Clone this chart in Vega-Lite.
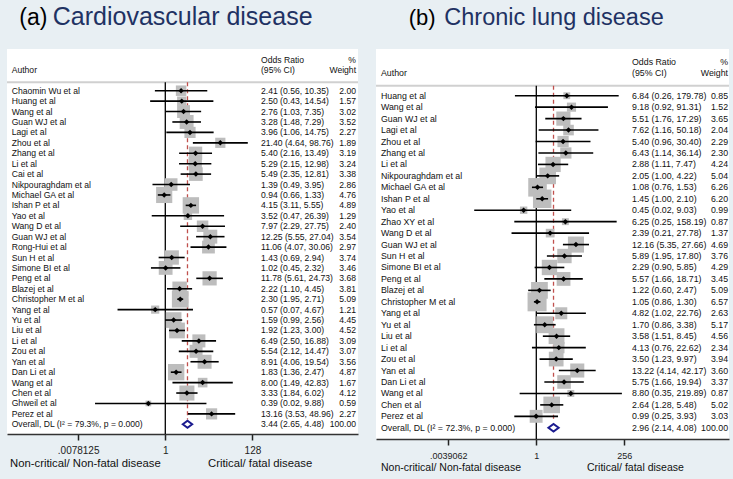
{
  "$schema": "https://vega.github.io/schema/vega-lite/v6.json",
  "background": "#e8eff3",
  "padding": {"left": 6, "top": 5, "right": 5, "bottom": 10},
  "spacing": 18,
  "bounds": "flush",
  "config": {"view": {"fill": "#ffffff", "stroke": null}, "font": "Liberation Sans", "text": {"font": "Liberation Sans"}},
  "datasets": {
    "cvd": [
      {"i": 0, "study": "Chaomin Wu et al", "or": 2.41, "lo": 0.56, "hi": 10.35, "w": 2.00, "ci": "2.41 (0.56, 10.35)", "kind": "study"},
      {"i": 1, "study": "Huang et al", "or": 2.50, "lo": 0.43, "hi": 14.54, "w": 1.57, "ci": "2.50 (0.43, 14.54)", "kind": "study"},
      {"i": 2, "study": "Wang et al", "or": 2.76, "lo": 1.03, "hi": 7.35, "w": 3.02, "ci": "2.76 (1.03, 7.35)", "kind": "study"},
      {"i": 3, "study": "Guan WJ et al", "or": 3.28, "lo": 1.48, "hi": 7.29, "w": 3.52, "ci": "3.28 (1.48, 7.29)", "kind": "study"},
      {"i": 4, "study": "Lagi et al", "or": 3.96, "lo": 1.06, "hi": 14.75, "w": 2.27, "ci": "3.96 (1.06, 14.75)", "kind": "study"},
      {"i": 5, "study": "Zhou et al", "or": 21.40, "lo": 4.64, "hi": 98.76, "w": 1.89, "ci": "21.40 (4.64, 98.76)", "kind": "study"},
      {"i": 6, "study": "Zhang et al", "or": 5.40, "lo": 2.16, "hi": 13.49, "w": 3.19, "ci": "5.40 (2.16, 13.49)", "kind": "study"},
      {"i": 7, "study": "Li et al", "or": 5.29, "lo": 2.15, "hi": 12.98, "w": 3.24, "ci": "5.29 (2.15, 12.98)", "kind": "study"},
      {"i": 8, "study": "Cai et al", "or": 5.49, "lo": 2.35, "hi": 12.81, "w": 3.38, "ci": "5.49 (2.35, 12.81)", "kind": "study"},
      {"i": 9, "study": "Nikpouraghdam et al", "or": 1.39, "lo": 0.49, "hi": 3.95, "w": 2.86, "ci": "1.39 (0.49, 3.95)", "kind": "study"},
      {"i": 10, "study": "Michael GA et al", "or": 0.94, "lo": 0.66, "hi": 1.33, "w": 4.76, "ci": "0.94 (0.66, 1.33)", "kind": "study"},
      {"i": 11, "study": "Ishan P et al", "or": 4.15, "lo": 3.11, "hi": 5.55, "w": 4.89, "ci": "4.15 (3.11, 5.55)", "kind": "study"},
      {"i": 12, "study": "Yao et al", "or": 3.52, "lo": 0.47, "hi": 26.39, "w": 1.29, "ci": "3.52 (0.47, 26.39)", "kind": "study"},
      {"i": 13, "study": "Wang D et al", "or": 7.97, "lo": 2.29, "hi": 27.75, "w": 2.40, "ci": "7.97 (2.29, 27.75)", "kind": "study"},
      {"i": 14, "study": "Guan WJ et al", "or": 12.25, "lo": 5.55, "hi": 27.04, "w": 3.54, "ci": "12.25 (5.55, 27.04)", "kind": "study"},
      {"i": 15, "study": "Rong-Hui et al", "or": 11.06, "lo": 4.07, "hi": 30.06, "w": 2.97, "ci": "11.06 (4.07, 30.06)", "kind": "study"},
      {"i": 16, "study": "Sun H et al", "or": 1.43, "lo": 0.69, "hi": 2.94, "w": 3.74, "ci": "1.43 (0.69, 2.94)", "kind": "study"},
      {"i": 17, "study": "Simone BI et al", "or": 1.02, "lo": 0.45, "hi": 2.32, "w": 3.46, "ci": "1.02 (0.45, 2.32)", "kind": "study"},
      {"i": 18, "study": "Peng et al", "or": 11.78, "lo": 5.61, "hi": 24.73, "w": 3.68, "ci": "11.78 (5.61, 24.73)", "kind": "study"},
      {"i": 19, "study": "Blazej et al", "or": 2.22, "lo": 1.10, "hi": 4.45, "w": 3.81, "ci": "2.22 (1.10, 4.45)", "kind": "study"},
      {"i": 20, "study": "Christopher M et al", "or": 2.30, "lo": 1.95, "hi": 2.71, "w": 5.09, "ci": "2.30 (1.95, 2.71)", "kind": "study"},
      {"i": 21, "study": "Yang et al", "or": 0.57, "lo": 0.07, "hi": 4.67, "w": 1.21, "ci": "0.57 (0.07, 4.67)", "kind": "study"},
      {"i": 22, "study": "Yu et al", "or": 1.59, "lo": 0.99, "hi": 2.56, "w": 4.45, "ci": "1.59 (0.99, 2.56)", "kind": "study"},
      {"i": 23, "study": "Liu et al", "or": 1.92, "lo": 1.23, "hi": 3.00, "w": 4.52, "ci": "1.92 (1.23, 3.00)", "kind": "study"},
      {"i": 24, "study": "Li et al", "or": 6.49, "lo": 2.50, "hi": 16.88, "w": 3.09, "ci": "6.49 (2.50, 16.88)", "kind": "study"},
      {"i": 25, "study": "Zou et al", "or": 5.54, "lo": 2.12, "hi": 14.47, "w": 3.07, "ci": "5.54 (2.12, 14.47)", "kind": "study"},
      {"i": 26, "study": "Yan et al", "or": 8.91, "lo": 4.06, "hi": 19.54, "w": 3.56, "ci": "8.91 (4.06, 19.54)", "kind": "study"},
      {"i": 27, "study": "Dan Li et al", "or": 1.83, "lo": 1.36, "hi": 2.47, "w": 4.87, "ci": "1.83 (1.36, 2.47)", "kind": "study"},
      {"i": 28, "study": "Wang et al", "or": 8.00, "lo": 1.49, "hi": 42.83, "w": 1.67, "ci": "8.00 (1.49, 42.83)", "kind": "study"},
      {"i": 29, "study": "Chen et al", "or": 3.33, "lo": 1.84, "hi": 6.02, "w": 4.12, "ci": "3.33 (1.84, 6.02)", "kind": "study"},
      {"i": 30, "study": "Ghweil et al", "or": 0.39, "lo": 0.02, "hi": 9.88, "w": 0.59, "ci": "0.39 (0.02, 9.88)", "kind": "study"},
      {"i": 31, "study": "Perez et al", "or": 13.16, "lo": 3.53, "hi": 48.96, "w": 2.27, "ci": "13.16 (3.53, 48.96)", "kind": "study"},
      {"i": 32, "study": "Overall, DL (I² = 79.3%, p = 0.000)", "or": 3.44, "lo": 2.65, "hi": 4.48, "w": 100.00, "ci": "3.44 (2.65, 4.48)", "kind": "overall"}
    ],
    "cld": [
      {"i": 0, "study": "Huang et al", "or": 6.84, "lo": 0.26, "hi": 179.78, "w": 0.85, "ci": "6.84 (0.26, 179.78)", "kind": "study"},
      {"i": 1, "study": "Wang et al", "or": 9.18, "lo": 0.92, "hi": 91.31, "w": 1.52, "ci": "9.18 (0.92, 91.31)", "kind": "study"},
      {"i": 2, "study": "Guan WJ et al", "or": 5.51, "lo": 1.76, "hi": 17.29, "w": 3.65, "ci": "5.51 (1.76, 17.29)", "kind": "study"},
      {"i": 3, "study": "Lagi et al", "or": 7.62, "lo": 1.16, "hi": 50.18, "w": 2.04, "ci": "7.62 (1.16, 50.18)", "kind": "study"},
      {"i": 4, "study": "Zhou et al", "or": 5.40, "lo": 0.96, "hi": 30.40, "w": 2.29, "ci": "5.40 (0.96, 30.40)", "kind": "study"},
      {"i": 5, "study": "Zhang et al", "or": 6.43, "lo": 1.14, "hi": 36.14, "w": 2.30, "ci": "6.43 (1.14, 36.14)", "kind": "study"},
      {"i": 6, "study": "Li et al", "or": 2.88, "lo": 1.11, "hi": 7.47, "w": 4.24, "ci": "2.88 (1.11, 7.47)", "kind": "study"},
      {"i": 7, "study": "Nikpouraghdam et al", "or": 2.05, "lo": 1.00, "hi": 4.22, "w": 5.04, "ci": "2.05 (1.00, 4.22)", "kind": "study"},
      {"i": 8, "study": "Michael GA et al", "or": 1.08, "lo": 0.76, "hi": 1.53, "w": 6.26, "ci": "1.08 (0.76, 1.53)", "kind": "study"},
      {"i": 9, "study": "Ishan P et al", "or": 1.45, "lo": 1.00, "hi": 2.10, "w": 6.20, "ci": "1.45 (1.00, 2.10)", "kind": "study"},
      {"i": 10, "study": "Yao et al", "or": 0.45, "lo": 0.02, "hi": 9.03, "w": 0.99, "ci": "0.45 (0.02, 9.03)", "kind": "study"},
      {"i": 11, "study": "Zhao XY et al", "or": 6.25, "lo": 0.25, "hi": 158.19, "w": 0.87, "ci": "6.25 (0.25, 158.19)", "kind": "study"},
      {"i": 12, "study": "Wang D et al", "or": 2.39, "lo": 0.21, "hi": 27.78, "w": 1.37, "ci": "2.39 (0.21, 27.78)", "kind": "study"},
      {"i": 13, "study": "Guan WJ et al", "or": 12.16, "lo": 5.35, "hi": 27.66, "w": 4.69, "ci": "12.16 (5.35, 27.66)", "kind": "study"},
      {"i": 14, "study": "Sun H et al", "or": 5.89, "lo": 1.95, "hi": 17.80, "w": 3.76, "ci": "5.89 (1.95, 17.80)", "kind": "study"},
      {"i": 15, "study": "Simone BI et al", "or": 2.29, "lo": 0.90, "hi": 5.85, "w": 4.29, "ci": "2.29 (0.90, 5.85)", "kind": "study"},
      {"i": 16, "study": "Peng et al", "or": 5.57, "lo": 1.66, "hi": 18.71, "w": 3.45, "ci": "5.57 (1.66, 18.71)", "kind": "study"},
      {"i": 17, "study": "Blazej et al", "or": 1.22, "lo": 0.60, "hi": 2.47, "w": 5.09, "ci": "1.22 (0.60, 2.47)", "kind": "study"},
      {"i": 18, "study": "Christopher M et al", "or": 1.05, "lo": 0.86, "hi": 1.30, "w": 6.57, "ci": "1.05 (0.86, 1.30)", "kind": "study"},
      {"i": 19, "study": "Yang et al", "or": 4.82, "lo": 1.02, "hi": 22.76, "w": 2.63, "ci": "4.82 (1.02, 22.76)", "kind": "study"},
      {"i": 20, "study": "Yu et al", "or": 1.70, "lo": 0.86, "hi": 3.38, "w": 5.17, "ci": "1.70 (0.86, 3.38)", "kind": "study"},
      {"i": 21, "study": "Liu et al", "or": 3.58, "lo": 1.51, "hi": 8.45, "w": 4.56, "ci": "3.58 (1.51, 8.45)", "kind": "study"},
      {"i": 22, "study": "Li et al", "or": 4.13, "lo": 0.76, "hi": 22.62, "w": 2.34, "ci": "4.13 (0.76, 22.62)", "kind": "study"},
      {"i": 23, "study": "Zou et al", "or": 3.50, "lo": 1.23, "hi": 9.97, "w": 3.94, "ci": "3.50 (1.23, 9.97)", "kind": "study"},
      {"i": 24, "study": "Yan et al", "or": 13.22, "lo": 4.14, "hi": 42.17, "w": 3.60, "ci": "13.22 (4.14, 42.17)", "kind": "study"},
      {"i": 25, "study": "Dan Li et al", "or": 5.75, "lo": 1.66, "hi": 19.94, "w": 3.37, "ci": "5.75 (1.66, 19.94)", "kind": "study"},
      {"i": 26, "study": "Wang et al", "or": 8.80, "lo": 0.35, "hi": 219.89, "w": 0.87, "ci": "8.80 (0.35, 219.89)", "kind": "study"},
      {"i": 27, "study": "Chen et al", "or": 2.64, "lo": 1.28, "hi": 5.48, "w": 5.02, "ci": "2.64 (1.28, 5.48)", "kind": "study"},
      {"i": 28, "study": "Perez et al", "or": 0.99, "lo": 0.25, "hi": 3.93, "w": 3.03, "ci": "0.99 (0.25, 3.93)", "kind": "study"},
      {"i": 29, "study": "Overall, DL (I² = 72.3%, p = 0.000)", "or": 2.96, "lo": 2.14, "hi": 4.08, "w": 100.00, "ci": "2.96 (2.14, 4.08)", "kind": "overall"}
    ]
  },
  "hconcat": [
    {
      "width": 351,
      "height": 385,
      "data": {"name": "cvd"},
      "layer": [
        {"data": {"values": [{}]}, "mark": {"type": "rule", "color": "#d0d0d0", "strokeWidth": 2},
         "encoding": {"y": {"datum": -0.81, "type": "quantitative", "scale": {"domain": [-4, 32.93], "reverse": true, "nice": false, "zero": false}, "axis": null}}},
        {"data": {"values": [{}]}, "mark": {"type": "rule", "color": "#000000", "strokeWidth": 1.3},
         "encoding": {"x": {"datum": 1, "type": "quantitative", "scale": {"type": "log", "base": 2, "domain": [0.00014876, 45644], "nice": false}},
                      "y": {"datum": -0.81, "type": "quantitative", "scale": {"domain": [-4, 32.93], "reverse": true, "nice": false, "zero": false}, "axis": null},
                      "y2": {"datum": 32.93}}},
        {"transform": [{"filter": "datum.kind == 'overall'"}], "mark": {"type": "rule", "color": "#c0504d", "strokeWidth": 1.3, "strokeDash": [4, 3]},
         "encoding": {"x": {"field": "or", "type": "quantitative", "scale": {"type": "log", "base": 2, "domain": [0.00014876, 45644], "nice": false}},
                      "y": {"datum": -0.81, "type": "quantitative", "scale": {"domain": [-4, 32.93], "reverse": true, "nice": false, "zero": false}, "axis": null},
                      "y2": {"datum": 31.55}}},
        {"transform": [{"filter": "datum.kind == 'study'"}], "mark": {"type": "point", "shape": "square", "filled": true, "color": "#bdbdbd", "opacity": 1},
         "encoding": {"x": {"field": "or", "type": "quantitative", "scale": {"type": "log", "base": 2, "domain": [0.00014876, 45644], "nice": false},
                            "axis": {"values": [0.0078125, 1, 128], "labelExpr": "datum.value < 0.5 ? '.0078125' : datum.value < 2 ? '1' : '128'", "title": null, "grid": false, "domain": true, "domainColor": "#333333", "domainWidth": 1.5, "ticks": true, "tickColor": "#222222", "tickWidth": 1.5, "tickSize": 6, "labelFontSize": 10, "labelFont": "Liberation Sans", "labelColor": "#222222", "labelPadding": 5, "labelFlush": false, "labelOverlap": false}},
                      "y": {"field": "i", "type": "quantitative", "scale": {"domain": [-4, 32.93], "reverse": true, "nice": false, "zero": false}, "axis": null},
                      "size": {"field": "w", "type": "quantitative", "scale": {"domain": [0, 10], "range": [0, 550]}, "legend": null}}},
        {"transform": [{"filter": "datum.kind == 'study'"}], "mark": {"type": "rule", "color": "#000000", "strokeWidth": 1.6},
         "encoding": {"x": {"field": "lo", "type": "quantitative", "scale": {"type": "log", "base": 2, "domain": [0.00014876, 45644], "nice": false}},
                      "x2": {"field": "hi"},
                      "y": {"field": "i", "type": "quantitative", "scale": {"domain": [-4, 32.93], "reverse": true, "nice": false, "zero": false}, "axis": null}}},
        {"transform": [{"filter": "datum.kind == 'study'"}], "mark": {"type": "point", "shape": "diamond", "filled": true, "color": "#000000", "size": 30, "opacity": 1},
         "encoding": {"x": {"field": "or", "type": "quantitative", "scale": {"type": "log", "base": 2, "domain": [0.00014876, 45644], "nice": false}},
                      "y": {"field": "i", "type": "quantitative", "scale": {"domain": [-4, 32.93], "reverse": true, "nice": false, "zero": false}, "axis": null}}},
        {"transform": [{"filter": "datum.kind == 'overall'"}], "mark": {"type": "point", "shape": "M-1,0L0,-0.75L1,0L0,0.75Z", "filled": true, "fill": "#ffffff", "stroke": "#1b1b8f", "strokeWidth": 2, "size": 88, "opacity": 1},
         "encoding": {"x": {"field": "or", "type": "quantitative", "scale": {"type": "log", "base": 2, "domain": [0.00014876, 45644], "nice": false}},
                      "y": {"field": "i", "type": "quantitative", "scale": {"domain": [-4, 32.93], "reverse": true, "nice": false, "zero": false}, "axis": null}}},
        {"mark": {"type": "text", "align": "left", "baseline": "middle", "fontSize": 8.6, "color": "#111111"},
         "encoding": {"x": {"datum": 0.000193, "type": "quantitative", "scale": {"type": "log", "base": 2, "domain": [0.00014876, 45644], "nice": false}},
                      "y": {"field": "i", "type": "quantitative", "scale": {"domain": [-4, 32.93], "reverse": true, "nice": false, "zero": false}, "axis": null},
                      "text": {"field": "study"}}},
        {"mark": {"type": "text", "align": "left", "baseline": "middle", "fontSize": 8.6, "color": "#111111"},
         "encoding": {"x": {"datum": 206, "type": "quantitative", "scale": {"type": "log", "base": 2, "domain": [0.00014876, 45644], "nice": false}},
                      "y": {"field": "i", "type": "quantitative", "scale": {"domain": [-4, 32.93], "reverse": true, "nice": false, "zero": false}, "axis": null},
                      "text": {"field": "ci"}}},
        {"mark": {"type": "text", "align": "right", "baseline": "middle", "fontSize": 8.6, "color": "#111111"},
         "encoding": {"x": {"datum": 40900, "type": "quantitative", "scale": {"type": "log", "base": 2, "domain": [0.00014876, 45644], "nice": false}},
                      "y": {"field": "i", "type": "quantitative", "scale": {"domain": [-4, 32.93], "reverse": true, "nice": false, "zero": false}, "axis": null},
                      "text": {"field": "w", "type": "quantitative", "format": ".2f"}}},
        {"data": {"values": [{}]}, "mark": {"type": "text", "align": "left", "baseline": "alphabetic", "fontSize": 23, "color": "#000000"},
         "encoding": {"x": {"datum": 0.000294, "type": "quantitative", "scale": {"type": "log", "base": 2, "domain": [0.00014876, 45644], "nice": false}},
                      "y": {"datum": -6.3, "type": "quantitative", "scale": {"domain": [-4, 32.93], "reverse": true, "nice": false, "zero": false}, "axis": null},
                      "text": {"value": "(a)"}}},
        {"data": {"values": [{}]}, "mark": {"type": "text", "align": "left", "baseline": "alphabetic", "fontSize": 25, "color": "#1f3263"},
         "encoding": {"x": {"datum": 0.001898, "type": "quantitative", "scale": {"type": "log", "base": 2, "domain": [0.00014876, 45644], "nice": false}},
                      "y": {"datum": -6.3, "type": "quantitative", "scale": {"domain": [-4, 32.93], "reverse": true, "nice": false, "zero": false}, "axis": null},
                      "text": {"value": "Cardiovascular disease"}}},
        {"data": {"values": [{}]}, "mark": {"type": "text", "align": "left", "baseline": "middle", "fontSize": 8.6, "color": "#111111"},
         "encoding": {"x": {"datum": 0.000193, "type": "quantitative", "scale": {"type": "log", "base": 2, "domain": [0.00014876, 45644], "nice": false}},
                      "y": {"datum": -2.0, "type": "quantitative", "scale": {"domain": [-4, 32.93], "reverse": true, "nice": false, "zero": false}, "axis": null},
                      "text": {"value": "Author"}}},
        {"data": {"values": [{}]}, "mark": {"type": "text", "align": "left", "baseline": "middle", "fontSize": 8.6, "color": "#111111"},
         "encoding": {"x": {"datum": 206, "type": "quantitative", "scale": {"type": "log", "base": 2, "domain": [0.00014876, 45644], "nice": false}},
                      "y": {"datum": -2.945, "type": "quantitative", "scale": {"domain": [-4, 32.93], "reverse": true, "nice": false, "zero": false}, "axis": null},
                      "text": {"value": "Odds Ratio"}}},
        {"data": {"values": [{}]}, "mark": {"type": "text", "align": "left", "baseline": "middle", "fontSize": 8.6, "color": "#111111"},
         "encoding": {"x": {"datum": 206, "type": "quantitative", "scale": {"type": "log", "base": 2, "domain": [0.00014876, 45644], "nice": false}},
                      "y": {"datum": -2.0, "type": "quantitative", "scale": {"domain": [-4, 32.93], "reverse": true, "nice": false, "zero": false}, "axis": null},
                      "text": {"value": "(95% CI)"}}},
        {"data": {"values": [{}]}, "mark": {"type": "text", "align": "right", "baseline": "middle", "fontSize": 8.6, "color": "#111111"},
         "encoding": {"x": {"datum": 40900, "type": "quantitative", "scale": {"type": "log", "base": 2, "domain": [0.00014876, 45644], "nice": false}},
                      "y": {"datum": -2.945, "type": "quantitative", "scale": {"domain": [-4, 32.93], "reverse": true, "nice": false, "zero": false}, "axis": null},
                      "text": {"value": "%"}}},
        {"data": {"values": [{}]}, "mark": {"type": "text", "align": "right", "baseline": "middle", "fontSize": 8.6, "color": "#111111"},
         "encoding": {"x": {"datum": 40900, "type": "quantitative", "scale": {"type": "log", "base": 2, "domain": [0.00014876, 45644], "nice": false}},
                      "y": {"datum": -2.0, "type": "quantitative", "scale": {"domain": [-4, 32.93], "reverse": true, "nice": false, "zero": false}, "axis": null},
                      "text": {"value": "Weight"}}},
        {"data": {"values": [{}]}, "mark": {"type": "text", "align": "left", "baseline": "middle", "fontSize": 11.3, "color": "#111111"},
         "encoding": {"x": {"datum": 0.000176, "type": "quantitative", "scale": {"type": "log", "base": 2, "domain": [0.00014876, 45644], "nice": false}},
                      "y": {"datum": 35.81, "type": "quantitative", "scale": {"domain": [-4, 32.93], "reverse": true, "nice": false, "zero": false}, "axis": null},
                      "text": {"value": "Non-critical/ Non-fatal disease"}}},
        {"data": {"values": [{}]}, "mark": {"type": "text", "align": "left", "baseline": "middle", "fontSize": 11.3, "color": "#111111"},
         "encoding": {"x": {"datum": 10.78, "type": "quantitative", "scale": {"type": "log", "base": 2, "domain": [0.00014876, 45644], "nice": false}},
                      "y": {"datum": 35.81, "type": "quantitative", "scale": {"domain": [-4, 32.93], "reverse": true, "nice": false, "zero": false}, "axis": null},
                      "text": {"value": "Critical/ fatal disease"}}}
      ]
    },
    {
      "width": 353,
      "height": 390,
      "data": {"name": "cld"},
      "layer": [
        {"data": {"values": [{}]}, "mark": {"type": "rule", "color": "#d0d0d0", "strokeWidth": 2},
         "encoding": {"y": {"datum": -0.875, "type": "quantitative", "scale": {"domain": [-4.08, 29.98], "reverse": true, "nice": false, "zero": false}, "axis": null}}},
        {"data": {"values": [{}]}, "mark": {"type": "rule", "color": "#000000", "strokeWidth": 1.3},
         "encoding": {"x": {"datum": 1, "type": "quantitative", "scale": {"type": "log", "base": 2, "domain": [0.000041046, 187700], "nice": false}},
                      "y": {"datum": -0.875, "type": "quantitative", "scale": {"domain": [-4.08, 29.98], "reverse": true, "nice": false, "zero": false}, "axis": null},
                      "y2": {"datum": 29.98}}},
        {"transform": [{"filter": "datum.kind == 'overall'"}], "mark": {"type": "rule", "color": "#c0504d", "strokeWidth": 1.3, "strokeDash": [4, 3]},
         "encoding": {"x": {"field": "or", "type": "quantitative", "scale": {"type": "log", "base": 2, "domain": [0.000041046, 187700], "nice": false}},
                      "y": {"datum": -0.875, "type": "quantitative", "scale": {"domain": [-4.08, 29.98], "reverse": true, "nice": false, "zero": false}, "axis": null},
                      "y2": {"datum": 28.33}}},
        {"transform": [{"filter": "datum.kind == 'study'"}], "mark": {"type": "point", "shape": "square", "filled": true, "color": "#bdbdbd", "opacity": 1},
         "encoding": {"x": {"field": "or", "type": "quantitative", "scale": {"type": "log", "base": 2, "domain": [0.000041046, 187700], "nice": false},
                            "axis": {"values": [0.00390625, 1, 256], "labelExpr": "datum.value < 0.5 ? '.0039062' : datum.value < 2 ? '1' : '256'", "title": null, "grid": false, "domain": true, "domainColor": "#333333", "domainWidth": 1.5, "ticks": true, "tickColor": "#222222", "tickWidth": 1.5, "tickSize": 6, "labelFontSize": 9, "labelFont": "Liberation Sans", "labelColor": "#222222", "labelPadding": 6, "labelFlush": false, "labelOverlap": false}},
                      "y": {"field": "i", "type": "quantitative", "scale": {"domain": [-4.08, 29.98], "reverse": true, "nice": false, "zero": false}, "axis": null},
                      "size": {"field": "w", "type": "quantitative", "scale": {"domain": [0, 10], "range": [0, 480]}, "legend": null}}},
        {"transform": [{"filter": "datum.kind == 'study'"}], "mark": {"type": "rule", "color": "#000000", "strokeWidth": 1.6},
         "encoding": {"x": {"field": "lo", "type": "quantitative", "scale": {"type": "log", "base": 2, "domain": [0.000041046, 187700], "nice": false}},
                      "x2": {"field": "hi"},
                      "y": {"field": "i", "type": "quantitative", "scale": {"domain": [-4.08, 29.98], "reverse": true, "nice": false, "zero": false}, "axis": null}}},
        {"transform": [{"filter": "datum.kind == 'study'"}], "mark": {"type": "point", "shape": "diamond", "filled": true, "color": "#000000", "size": 30, "opacity": 1},
         "encoding": {"x": {"field": "or", "type": "quantitative", "scale": {"type": "log", "base": 2, "domain": [0.000041046, 187700], "nice": false}},
                      "y": {"field": "i", "type": "quantitative", "scale": {"domain": [-4.08, 29.98], "reverse": true, "nice": false, "zero": false}, "axis": null}}},
        {"transform": [{"filter": "datum.kind == 'overall'"}], "mark": {"type": "point", "shape": "M-1,0L0,-0.75L1,0L0,0.75Z", "filled": true, "fill": "#ffffff", "stroke": "#1b1b8f", "strokeWidth": 2, "size": 105, "opacity": 1},
         "encoding": {"x": {"field": "or", "type": "quantitative", "scale": {"type": "log", "base": 2, "domain": [0.000041046, 187700], "nice": false}},
                      "y": {"field": "i", "type": "quantitative", "scale": {"domain": [-4.08, 29.98], "reverse": true, "nice": false, "zero": false}, "axis": null}}},
        {"mark": {"type": "text", "align": "left", "baseline": "middle", "fontSize": 8.8, "color": "#111111"},
         "encoding": {"x": {"datum": 0.0000562, "type": "quantitative", "scale": {"type": "log", "base": 2, "domain": [0.000041046, 187700], "nice": false}},
                      "y": {"field": "i", "type": "quantitative", "scale": {"domain": [-4.08, 29.98], "reverse": true, "nice": false, "zero": false}, "axis": null},
                      "text": {"field": "study"}}},
        {"mark": {"type": "text", "align": "left", "baseline": "middle", "fontSize": 8.8, "color": "#111111"},
         "encoding": {"x": {"datum": 416, "type": "quantitative", "scale": {"type": "log", "base": 2, "domain": [0.000041046, 187700], "nice": false}},
                      "y": {"field": "i", "type": "quantitative", "scale": {"domain": [-4.08, 29.98], "reverse": true, "nice": false, "zero": false}, "axis": null},
                      "text": {"field": "ci"}}},
        {"mark": {"type": "text", "align": "right", "baseline": "middle", "fontSize": 8.8, "color": "#111111"},
         "encoding": {"x": {"datum": 176500, "type": "quantitative", "scale": {"type": "log", "base": 2, "domain": [0.000041046, 187700], "nice": false}},
                      "y": {"field": "i", "type": "quantitative", "scale": {"domain": [-4.08, 29.98], "reverse": true, "nice": false, "zero": false}, "axis": null},
                      "text": {"field": "w", "type": "quantitative", "format": ".2f"}}},
        {"data": {"values": [{}]}, "mark": {"type": "text", "align": "left", "baseline": "alphabetic", "fontSize": 22, "color": "#000000"},
         "encoding": {"x": {"datum": 0.000322, "type": "quantitative", "scale": {"type": "log", "base": 2, "domain": [0.000041046, 187700], "nice": false}},
                      "y": {"datum": -6.18, "type": "quantitative", "scale": {"domain": [-4.08, 29.98], "reverse": true, "nice": false, "zero": false}, "axis": null},
                      "text": {"value": "(b)"}}},
        {"data": {"values": [{}]}, "mark": {"type": "text", "align": "left", "baseline": "alphabetic", "fontSize": 23.5, "color": "#1f3263"},
         "encoding": {"x": {"datum": 0.003036, "type": "quantitative", "scale": {"type": "log", "base": 2, "domain": [0.000041046, 187700], "nice": false}},
                      "y": {"datum": -6.18, "type": "quantitative", "scale": {"domain": [-4.08, 29.98], "reverse": true, "nice": false, "zero": false}, "axis": null},
                      "text": {"value": "Chronic lung disease"}}},
        {"data": {"values": [{}]}, "mark": {"type": "text", "align": "left", "baseline": "middle", "fontSize": 8.8, "color": "#111111"},
         "encoding": {"x": {"datum": 0.0000562, "type": "quantitative", "scale": {"type": "log", "base": 2, "domain": [0.000041046, 187700], "nice": false}},
                      "y": {"datum": -1.96, "type": "quantitative", "scale": {"domain": [-4.08, 29.98], "reverse": true, "nice": false, "zero": false}, "axis": null},
                      "text": {"value": "Author"}}},
        {"data": {"values": [{}]}, "mark": {"type": "text", "align": "left", "baseline": "middle", "fontSize": 8.8, "color": "#111111"},
         "encoding": {"x": {"datum": 416, "type": "quantitative", "scale": {"type": "log", "base": 2, "domain": [0.000041046, 187700], "nice": false}},
                      "y": {"datum": -2.97, "type": "quantitative", "scale": {"domain": [-4.08, 29.98], "reverse": true, "nice": false, "zero": false}, "axis": null},
                      "text": {"value": "Odds Ratio"}}},
        {"data": {"values": [{}]}, "mark": {"type": "text", "align": "left", "baseline": "middle", "fontSize": 8.8, "color": "#111111"},
         "encoding": {"x": {"datum": 416, "type": "quantitative", "scale": {"type": "log", "base": 2, "domain": [0.000041046, 187700], "nice": false}},
                      "y": {"datum": -1.96, "type": "quantitative", "scale": {"domain": [-4.08, 29.98], "reverse": true, "nice": false, "zero": false}, "axis": null},
                      "text": {"value": "(95% CI)"}}},
        {"data": {"values": [{}]}, "mark": {"type": "text", "align": "right", "baseline": "middle", "fontSize": 8.8, "color": "#111111"},
         "encoding": {"x": {"datum": 176500, "type": "quantitative", "scale": {"type": "log", "base": 2, "domain": [0.000041046, 187700], "nice": false}},
                      "y": {"datum": -2.97, "type": "quantitative", "scale": {"domain": [-4.08, 29.98], "reverse": true, "nice": false, "zero": false}, "axis": null},
                      "text": {"value": "%"}}},
        {"data": {"values": [{}]}, "mark": {"type": "text", "align": "right", "baseline": "middle", "fontSize": 8.8, "color": "#111111"},
         "encoding": {"x": {"datum": 176500, "type": "quantitative", "scale": {"type": "log", "base": 2, "domain": [0.000041046, 187700], "nice": false}},
                      "y": {"datum": -1.96, "type": "quantitative", "scale": {"domain": [-4.08, 29.98], "reverse": true, "nice": false, "zero": false}, "axis": null},
                      "text": {"value": "Weight"}}},
        {"data": {"values": [{}]}, "mark": {"type": "text", "align": "left", "baseline": "middle", "fontSize": 10.5, "color": "#111111"},
         "encoding": {"x": {"datum": 0.0000562, "type": "quantitative", "scale": {"type": "log", "base": 2, "domain": [0.000041046, 187700], "nice": false}},
                      "y": {"datum": 32.49, "type": "quantitative", "scale": {"domain": [-4.08, 29.98], "reverse": true, "nice": false, "zero": false}, "axis": null},
                      "text": {"value": "Non-critical/ Non-fatal disease"}}},
        {"data": {"values": [{}]}, "mark": {"type": "text", "align": "left", "baseline": "middle", "fontSize": 10.5, "color": "#111111"},
         "encoding": {"x": {"datum": 24.4, "type": "quantitative", "scale": {"type": "log", "base": 2, "domain": [0.000041046, 187700], "nice": false}},
                      "y": {"datum": 32.49, "type": "quantitative", "scale": {"domain": [-4.08, 29.98], "reverse": true, "nice": false, "zero": false}, "axis": null},
                      "text": {"value": "Critical/ fatal disease"}}}
      ]
    }
  ]
}
